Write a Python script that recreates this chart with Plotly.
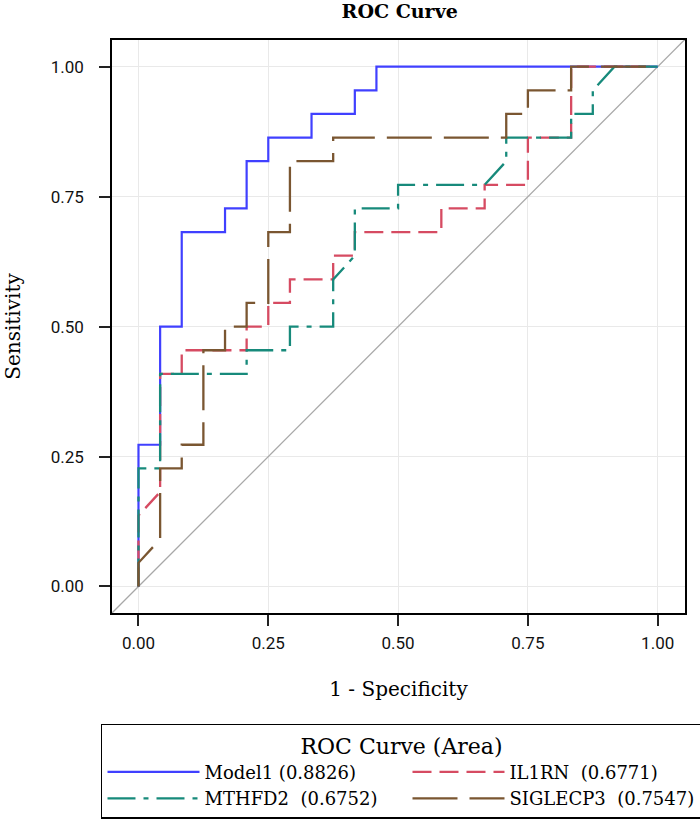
import plotly.graph_objects as go

# ---- data (ROC vertices) ----
model1_fpr = [0, 0, 0.0417, 0.0417, 0.0833, 0.0833, 0.1667, 0.1667, 0.2083, 0.2083, 0.25, 0.25,
              0.3333, 0.3333, 0.4167, 0.4167, 0.4583, 0.4583, 1]
model1_tpr = [0, 0.2727, 0.2727, 0.5, 0.5, 0.6818, 0.6818, 0.7273, 0.7273, 0.8182, 0.8182, 0.8636,
              0.8636, 0.9091, 0.9091, 0.9545, 0.9545, 1, 1]

il1rn_fpr = [0, 0, 0.0417, 0.0417, 0.0833, 0.0833, 0.2083, 0.2083, 0.25, 0.25, 0.2917, 0.2917,
             0.375, 0.375, 0.4167, 0.4167, 0.5833, 0.5833, 0.6667, 0.6667, 0.75, 0.75, 0.8333, 0.8333, 1]
il1rn_tpr = [0, 0.1364, 0.1818, 0.4091, 0.4091, 0.4545, 0.4545, 0.5, 0.5, 0.5455, 0.5455, 0.5909,
             0.5909, 0.6364, 0.6364, 0.6818, 0.6818, 0.7273, 0.7273, 0.7727, 0.7727, 0.8636, 0.8636, 1, 1]

mthfd2_fpr = [0, 0, 0.0417, 0.0417, 0.2083, 0.2083, 0.2917, 0.2917, 0.375, 0.375, 0.4167, 0.4167,
              0.5, 0.5, 0.6667, 0.7083, 0.7083, 0.8333, 0.8333, 0.875, 0.875, 0.9167, 1]
mthfd2_tpr = [0, 0.2273, 0.2273, 0.4091, 0.4091, 0.4545, 0.4545, 0.5, 0.5, 0.5909, 0.6364, 0.7273,
              0.7273, 0.7727, 0.7727, 0.8182, 0.8636, 0.8636, 0.9091, 0.9091, 0.9545, 1, 1]

siglecp3_fpr = [0, 0, 0.0417, 0.0417, 0.0833, 0.0833, 0.125, 0.125, 0.1667, 0.1667, 0.2083, 0.2083,
                0.25, 0.25, 0.2917, 0.2917, 0.375, 0.375, 0.7083, 0.7083, 0.75, 0.75, 0.8333, 0.8333, 1]
siglecp3_tpr = [0, 0.0455, 0.0909, 0.2273, 0.2273, 0.2727, 0.2727, 0.4545, 0.4545, 0.5, 0.5, 0.5455,
                0.5455, 0.6818, 0.6818, 0.8182, 0.8182, 0.8636, 0.8636, 0.9091, 0.9091, 0.9545, 0.9545, 1, 1]

series_names = ["Model1 (0.8826)", "IL1RN\u00a0 (0.6771)", "MTHFD2\u00a0 (0.6752)", "SIGLECP3\u00a0 (0.7547)"]
reference_line = [-0.1, 1.1]
tick_values = [0, 0.25, 0.5, 0.75, 1.0]
tick_labels = ["0.00", "0.25", "0.50", "0.75", "1.00"]

SERIF = "DejaVu Serif, Liberation Serif, serif"
TICKFONT = "Roboto, DejaVu Sans, sans-serif"

fig = go.Figure()

fig.add_trace(go.Scatter(x=reference_line, y=reference_line, mode="lines",
                         line=dict(color="#A8A8A8", width=1.3), showlegend=False, hoverinfo="skip"))

styles = [
    dict(color="#4040FF", width=2.2, dash="solid"),
    dict(color="#D64B62", width=2.3, dash="19px,8px"),
    dict(color="#178A7B", width=2.3, dash="28px,8px,5px,8px"),
    dict(color="#7A5631", width=2.3, dash="45px,12px"),
]
# legend column widths: left column (Model1, MTHFD2) wider than right column (IL1RN, SIGLECP3)
entry_widths = [198, 186, 198, 186]
series = [(model1_fpr, model1_tpr), (il1rn_fpr, il1rn_tpr), (mthfd2_fpr, mthfd2_tpr), (siglecp3_fpr, siglecp3_tpr)]

for (fx, ty), name, st, ew in zip(series, series_names, styles, entry_widths):
    fig.add_trace(go.Scatter(x=fx, y=ty, mode="lines", name=name, line=st, legendwidth=ew))

axis_common = dict(
    showline=True, linecolor="black", linewidth=1.6, mirror=True,
    showgrid=True, gridcolor="#E9E9E9", gridwidth=1,
    zeroline=False, automargin=False,
    ticks="outside", ticklen=11, tickwidth=1.5, tickcolor="#222222",
    tickvals=tick_values, ticktext=tick_labels,
    tickfont=dict(family=TICKFONT, size=17, color="#111111"),
)

fig.update_xaxes(range=[-0.051, 1.0526], ticklabelstandoff=3,
                 title=dict(text="1 - Specificity", font=dict(family=SERIF, size=20, color="black"), standoff=30),
                 **axis_common)
fig.update_yaxes(range=[-0.051, 1.0514], ticklabelstandoff=12,
                 title=dict(text="Sensitivity", font=dict(family=SERIF, size=20, color="black"), standoff=25),
                 **axis_common)

fig.update_layout(
    width=700, height=825,
    margin=dict(l=112, r=15, t=40, b=212, autoexpand=False),
    paper_bgcolor="white", plot_bgcolor="white",
    title=dict(text="<b>ROC Curve</b>", x=0.571, xanchor="center", y=0.9867, yanchor="middle",
               font=dict(family=SERIF, size=19, color="black")),
    legend=dict(
        orientation="h", x=-0.0192, xanchor="left", y=-0.193, yanchor="top",
        bordercolor="black", borderwidth=1.5, bgcolor="white",
        title=dict(text="ROC Curve (Area)", side="top center", font=dict(family=SERIF, size=22, color="black")),
        font=dict(family=SERIF, size=18, color="black"),
        itemwidth=92, entrywidthmode="pixels",
        traceorder="normal",
    ),
)

fig.write_html("out.html", config={"displayModeBar": False},
               post_script="document.body.style.margin='0';")
